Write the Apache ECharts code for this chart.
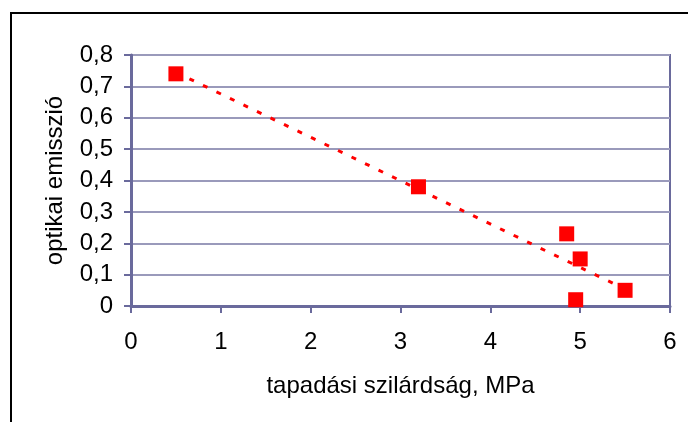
<!DOCTYPE html>
<html><head><meta charset="utf-8">
<script src="https://cdn.jsdelivr.net/npm/echarts@6/dist/echarts.min.js"></script>
<style>html,body{margin:0;padding:0;background:#fff}#c{width:688px;height:422px}</style>
</head><body><div id="c"></div>
<script>
const xValues = [0.5, 3.2, 4.85, 5.0, 4.95, 5.5];
const yValues = [0.74, 0.38, 0.23, 0.15, 0.02, 0.05];
const trendX = [0.5, 5.5];
const trendY = [0.745, 0.054];
const xTitle = 'tapadási szilárdság, MPa';
const yTitle = 'optikai emisszió';

const axisColor = '#6a6a9c';
const gridColor = '#9a9abb';
const font = '"Liberation Sans", Arial, sans-serif';

const chart = echarts.init(document.getElementById('c'));
chart.setOption({
  animation: false,
  backgroundColor: '#fff',
  graphic: [{
    type: 'rect', shape: {x: 11, y: 13, width: 700, height: 440},
    style: {fill: 'none', stroke: '#000', lineWidth: 2}
  }],
  grid: {left: 131, right: 18, top: 55, bottom: 116, show: true, borderColor: axisColor, borderWidth: 2},
  xAxis: {
    type: 'value', min: 0, max: 6, interval: 1,
    name: xTitle, nameLocation: 'middle', nameGap: 68,
    nameTextStyle: {fontFamily: font, fontSize: 24, color: '#000'},
    axisLine: {lineStyle: {color: axisColor, width: 3}},
    axisTick: {show: true, inside: false, length: 7, lineStyle: {color: axisColor, width: 2}},
    axisLabel: {fontFamily: font, fontSize: 24, color: '#000', margin: 24},
    splitLine: {show: false}
  },
  yAxis: {
    type: 'value', min: 0, max: 0.8, interval: 0.1,
    name: yTitle, nameLocation: 'middle', nameGap: 64,
    nameTextStyle: {fontFamily: font, fontSize: 24, color: '#000'},
    axisLine: {show: true, lineStyle: {color: axisColor, width: 3}},
    axisTick: {show: true, length: 7, lineStyle: {color: axisColor, width: 2}},
    axisLabel: {fontFamily: font, fontSize: 24, color: '#000', margin: 18,
      formatter: v => v === 0 ? '0' : v.toFixed(1).replace('.', ',')},
    splitLine: {show: true, lineStyle: {color: gridColor, width: 2}}
  },
  series: [{
    type: 'line',
    data: trendX.map((x, i) => [x, trendY[i]]),
    showSymbol: false, symbol: 'none',
    lineStyle: {color: '#ff0000', width: 3, type: [5, 10]},
    z: 2
  }, {
    type: 'scatter',
    data: xValues.map((x, i) => [x, yValues[i]]),
    symbol: 'rect', symbolSize: 15,
    itemStyle: {color: '#ff0000', opacity: 1},
    z: 3
  }]
});
</script></body></html>
